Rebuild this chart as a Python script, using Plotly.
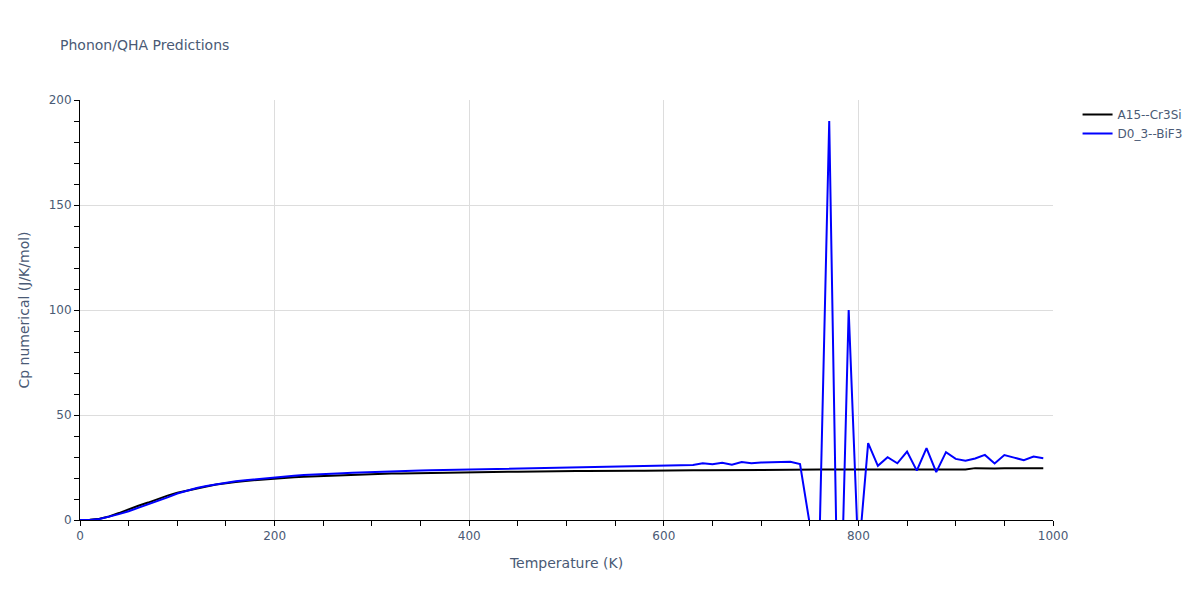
import plotly.graph_objects as go

temperature = list(range(0, 1000, 10))

cp_a15_cr3si = [
    0, 0.1, 0.6, 1.7, 3.3, 5.1, 6.8, 8.3, 10.0, 11.6,
    13.0, 14.1, 15.1, 16.0, 16.9, 17.6, 18.1, 18.6, 19.0, 19.4,
    19.8, 20.1, 20.4, 20.6, 20.8, 21.0, 21.2, 21.4, 21.5, 21.7,
    21.8, 21.9, 22.1, 22.2, 22.3, 22.4, 22.5, 22.5, 22.6, 22.7,
    22.7, 22.8, 22.9, 22.9, 23.0, 23.0, 23.1, 23.1, 23.2, 23.2,
    23.2, 23.3, 23.3, 23.4, 23.4, 23.4, 23.5, 23.5, 23.5, 23.6,
    23.6, 23.6, 23.7, 23.7, 23.7, 23.7, 23.8, 23.8, 23.8, 23.9,
    23.9, 23.9, 23.8, 23.9, 24.0, 24.0, 24.0, 24.1, 24.1, 24.1,
    24.2, 24.2, 24.2, 24.2, 24.3, 24.3, 24.3, 24.3, 24.4, 24.4,
    24.4, 24.1, 24.7, 24.5, 24.5, 24.6, 24.6, 24.6, 24.7, 24.7,
]

cp_d03_bif3 = [
    0, 0.05, 0.5, 1.5, 2.8, 4.2, 5.8, 7.3, 9.0, 10.8,
    12.6, 14.0, 15.2, 16.2, 17.0, 17.8, 18.4, 18.9, 19.4, 19.9,
    20.4, 20.8, 21.1, 21.4, 21.7, 21.9, 22.1, 22.3, 22.5, 22.7,
    22.9, 23.1, 23.3, 23.4, 23.5, 23.6, 23.7, 23.8, 23.9, 24.0,
    24.1, 24.2, 24.3, 24.4, 24.5, 24.6, 24.7, 24.8, 24.9, 25.0,
    25.1, 25.2, 25.3, 25.4, 25.5, 25.6, 25.7, 25.8, 25.9, 26.0,
    26.1, 26.2, 26.3, 26.2, 27.0, 26.6, 27.3, 26.3, 27.6, 27.0,
    27.4, 27.6, 27.7, 27.7, 26.6, -2, -10, 190, -80, 100,
    -18, 36.6, 25.8, 29.9, 27.0, 32.6, 23.5, 34.2, 22.8, 32.3,
    29.1, 28.2, 29.3, 31.0, 26.9, 30.9, 29.7, 28.5, 30.2, 29.4,
]

fig = go.Figure()
fig.add_trace(go.Scatter(x=temperature, y=cp_a15_cr3si, mode="lines",
                         name="A15--Cr3Si", line=dict(color="black", width=2)))
fig.add_trace(go.Scatter(x=temperature, y=cp_d03_bif3, mode="lines",
                         name="D0_3--BiF3", line=dict(color="blue", width=2)))

axis_common = dict(
    showline=True, linecolor="black", linewidth=1,
    ticks="outside", tickcolor="black", ticklen=5,
    showgrid=True, gridcolor="#dddddd", zeroline=False,
)

fig.update_layout(
    template="plotly_white",
    width=1200, height=600,
    font=dict(family="DejaVu Sans", color="#4a5a75"),
    title=dict(text="Phonon/QHA Predictions", font=dict(size=14)),
    xaxis=dict(title=dict(text="Temperature (K)"), range=[0, 1000], dtick=200,
               domain=[0, 0.9949],
               minor=dict(dtick=50, ticks="outside", ticklen=5, tickcolor="black", showgrid=False),
               **axis_common),
    yaxis=dict(title=dict(text="Cp numerical (J/K/mol)"), range=[0, 200], dtick=50,
               minor=dict(dtick=10, ticks="outside", ticklen=5, tickcolor="black", showgrid=False),
               **axis_common),
    margin=dict(l=80, r=80, t=100, b=80),
)

fig.write_html("out.html", config={"displayModeBar": False},
               post_script="document.body.style.margin='0';")
